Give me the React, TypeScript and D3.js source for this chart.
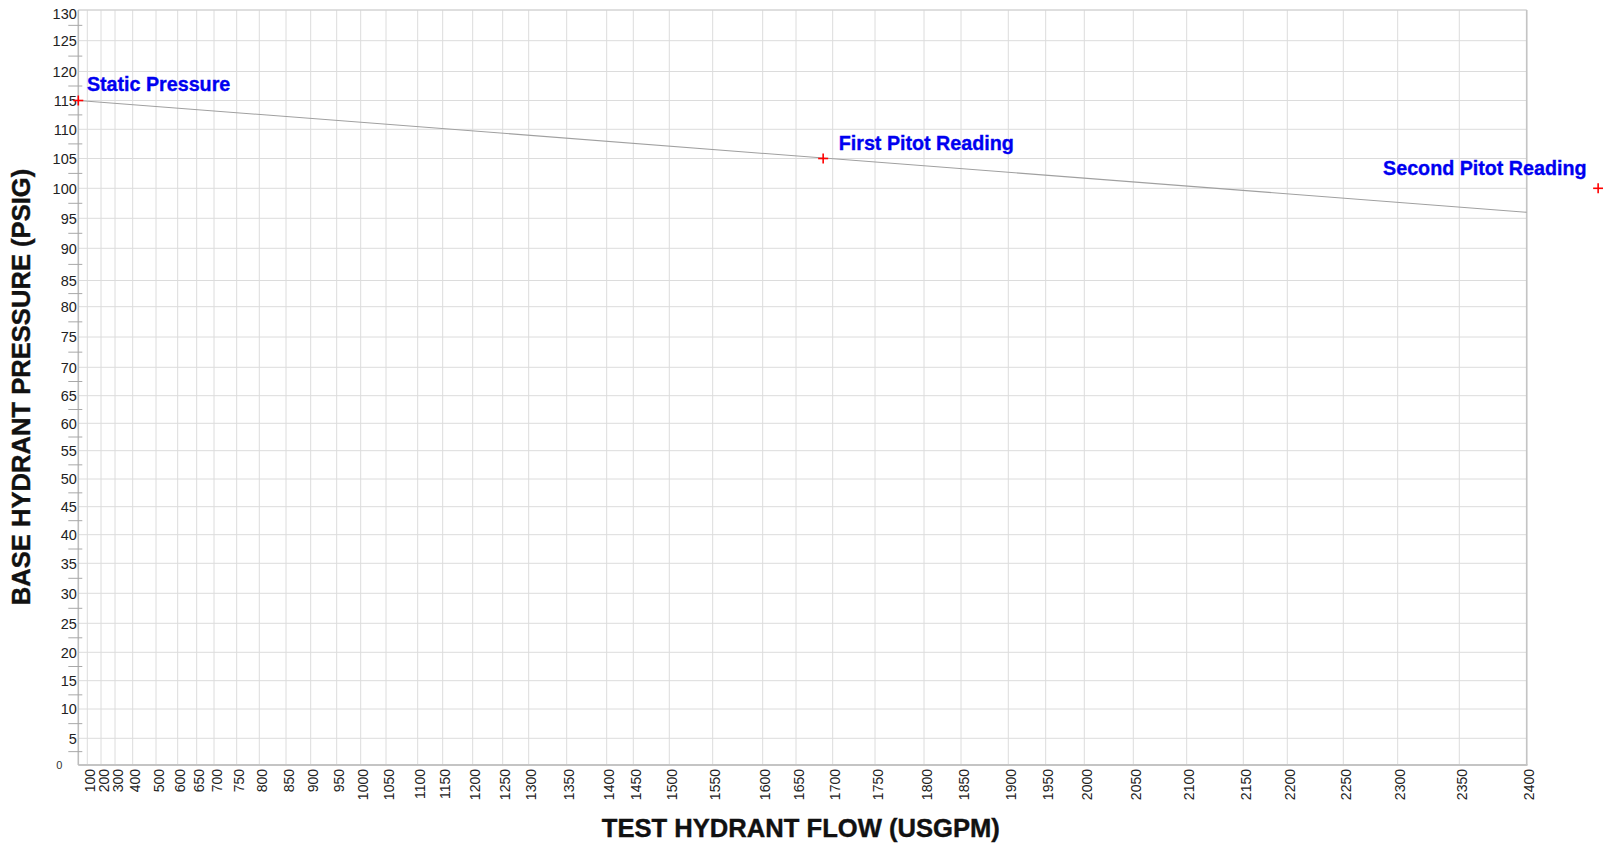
import React from 'react';
import * as d3 from 'd3';

// ---- Data ----
const flowTicks = [100, 200, 300, 400, 500, 600, 650, 700, 750, 800, 850, 900, 950, 1000, 1050, 1100, 1150, 1200, 1250, 1300, 1350, 1400, 1450, 1500, 1550, 1600, 1650, 1700, 1750, 1800, 1850, 1900, 1950, 2000, 2050, 2100, 2150, 2200, 2250, 2300, 2350, 2400];
const pressureTicks = [0, 5, 10, 15, 20, 25, 30, 35, 40, 45, 50, 55, 60, 65, 70, 75, 80, 85, 90, 95, 100, 105, 110, 115, 120, 125, 130];

const readingNames = ['Static Pressure', 'First Pitot Reading', 'Second Pitot Reading'];
const readingFlow = [0, 1687, 2453];
const readingPressure = [115, 105, 100];

const supplyFlow = [0, 2400];
const supplyPressure = [115, 96];

// ---- Axis calibration of the non-uniform (N^1.85 style) chart paper ----
const flowAxisDomain = [0, ...flowTicks];
const flowAxisPx = [78.3, 87.3, 101, 115, 132.7, 156, 177.7, 196.7, 214, 236.7, 259.3, 286, 310.7, 336.7, 360.7, 386, 417.7, 442.7, 472.7, 502.7, 528.7, 566.7, 606.7, 633.3, 669.3, 712.7, 762.7, 796, 832.7, 875, 924, 961, 1008.3, 1045.7, 1084.3, 1133.3, 1186.7, 1243.3, 1287.3, 1343.3, 1397.7, 1459.3, 1526.7];
const pressureAxisPx = [765, 738.3, 709, 680.7, 652.3, 623.3, 593.3, 563.3, 534.7, 506.7, 479, 450.7, 423.3, 395.7, 367.3, 337, 306.7, 280.5, 248.3, 218.3, 188.3, 158.5, 129.3, 100.5, 71.5, 40.7, 10];

const labelOffsets = [
  { dx: 8.6, dy: -10, anchor: 'start' },
  { dx: 15.6, dy: -8.3, anchor: 'start' },
  { dx: -11.6, dy: -13, anchor: 'end' },
];

const W = 1603;
const H = 844;

export default function App() {
  const x = d3.scaleLinear().domain(flowAxisDomain).range(flowAxisPx);
  const y = d3.scaleLinear().domain(pressureTicks).range(pressureAxisPx);

  const x0 = x(0);
  const x1 = x(2400);
  const yTop = y(130);
  const yBot = y(0);

  const line = d3
    .line<number>()
    .x((_, i) => x(supplyFlow[i]))
    .y((_, i) => y(supplyPressure[i]));

  const minorTicks = pressureTicks.slice(0, -1).map((v) => v + 2.5);

  const tickFont = '"Liberation Sans", Arial, sans-serif';

  return (
    <svg
      width={W}
      height={H}
      style={{ position: 'absolute', left: 0, top: 0, background: '#fff' }}
    >
      <rect x={0} y={0} width={W} height={H} fill="#fff" />
      {/* vertical grid */}
      {flowTicks.map((t) => (
        <line key={'vg' + t} x1={x(t)} x2={x(t)} y1={yTop} y2={yBot} stroke="#dcdcdc" strokeWidth={1} />
      ))}
      {/* horizontal grid */}
      {pressureTicks.map((t) => (
        <line key={'hg' + t} x1={x0} x2={x1} y1={y(t)} y2={y(t)} stroke="#dcdcdc" strokeWidth={1} />
      ))}
      {/* border */}
      <line x1={x0} x2={x1} y1={yTop} y2={yTop} stroke="#d0d0d0" strokeWidth={1} />
      <line x1={x1} x2={x1} y1={yTop} y2={yBot} stroke="#c4c4c4" strokeWidth={1.6} />
      <line x1={x0} x2={x1 + 0.8} y1={yBot} y2={yBot} stroke="#c4c4c4" strokeWidth={2} />
      <line x1={x0} x2={x0} y1={yTop} y2={yBot} stroke="#bdbdbd" strokeWidth={1.6} />
      {/* minor ticks */}
      {minorTicks.map((t) => (
        <line key={'mt' + t} x1={x0 - 10} x2={x0 + 4} y1={y(t)} y2={y(t)} stroke="#a8a8a8" strokeWidth={1} />
      ))}
      {/* y tick labels */}
      {pressureTicks.map((t) =>
        t === 0 ? (
          <text key={'yl' + t} x={x0 - 19} y={yBot} dy="0.36em" textAnchor="middle" fontFamily={tickFont} fontSize={11} fill="#333">
            {t}
          </text>
        ) : (
          <text key={'yl' + t} x={x0 - 1.5} y={Math.max(y(t), 14)} dy="0.36em" textAnchor="end" fontFamily={tickFont} fontSize={14.5} fill="#222">
            {t}
          </text>
        )
      )}
      {/* x tick labels */}
      {flowTicks.map((t) => (
        <text
          key={'xl' + t}
          transform={`translate(${x(t) + 2.5},${yBot + 4}) rotate(-90)`}
          dy="0.36em"
          textAnchor="end"
          fontFamily={tickFont}
          fontSize={14}
          fill="#222"
        >
          {t}
        </text>
      ))}
      {/* supply line */}
      <path d={line(supplyFlow) || ''} fill="none" stroke="#a0a0a0" strokeWidth={1.1} />
      {/* readings */}
      {readingNames.map((name, i) => {
        const px = x(readingFlow[i]);
        const py = y(readingPressure[i]);
        const o = labelOffsets[i];
        return (
          <g key={name}>
            <line x1={px - 5} x2={px + 5} y1={py} y2={py} stroke="#ff0000" strokeWidth={1.6} />
            <line x1={px} x2={px} y1={py - 5} y2={py + 5} stroke="#ff0000" strokeWidth={1.6} />
            <text
              x={px + o.dx}
              y={py + o.dy}
              textAnchor={o.anchor}
              fontFamily='"Liberation Sans", Arial, sans-serif'
              fontWeight="bold"
              fontSize={19.7}
              fill="#0000f0"
              stroke="#0000f0"
              strokeWidth={0.35}
            >
              {name}
            </text>
          </g>
        );
      })}
      {/* axis titles */}
      <text
        x={800.8}
        y={836.5}
        textAnchor="middle"
        fontFamily='"Liberation Sans", Arial, sans-serif'
        fontWeight="bold"
        fontSize={25.6}
        fill="#111"
        stroke="#111"
        strokeWidth={0.4}
      >
        TEST HYDRANT FLOW (USGPM)
      </text>
      <text
        transform="translate(30,387) rotate(-90)"
        textAnchor="middle"
        fontFamily='"Liberation Sans", Arial, sans-serif'
        fontWeight="bold"
        fontSize={25.6}
        fill="#111"
        stroke="#111"
        strokeWidth={0.4}
      >
        BASE HYDRANT PRESSURE (PSIG)
      </text>
    </svg>
  );
}
